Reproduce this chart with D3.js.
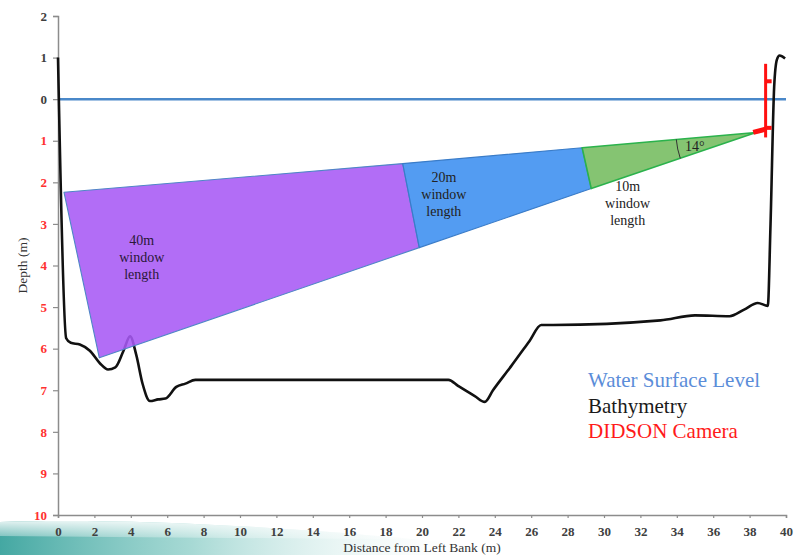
<!DOCTYPE html>
<html>
<head>
<meta charset="utf-8">
<script src="https://cdn.jsdelivr.net/npm/d3@7"></script>
<style>
  html, body { margin: 0; padding: 0; background: #fff; }
  svg { display: block; }
  svg text { font-family: "Liberation Serif", "Times New Roman", serif; }
</style>
</head>
<body>
<svg id="chart" width="801" height="555"></svg>
<script>
// Axis ticks
const xTicks = d3.range(0, 41, 2);
const yTicks = [2, 1, 0, -1, -2, -3, -4, -5, -6, -7, -8, -9, -10];

// Riverbed profile: [distance from left bank (m), elevation relative to water surface (m)]
const bathymetry = [
  [0, 1.0], [0.45, -5.75], [0.7, -5.86], [1.2, -5.9], [1.75, -6.05], [2.3, -6.35],
  [2.75, -6.5], [3.15, -6.45], [3.6, -6.05], [3.96, -5.7], [4.3, -6.15], [4.65, -6.85],
  [5.05, -7.26], [5.5, -7.22], [5.9, -7.2], [6.5, -6.92], [7.0, -6.84], [7.55, -6.75],
  [8.5, -6.75], [21.45, -6.75], [22.0, -6.9], [22.9, -7.14], [23.45, -7.28],
  [23.9, -7.0], [24.9, -6.42], [25.9, -5.82], [26.55, -5.43], [27.2, -5.43],
  [33.1, -5.32], [35.0, -5.2], [36.9, -5.22], [37.7, -5.06], [38.45, -4.9], [39.0, -4.97],
  [39.15, -3.0], [39.35, 0.3], [39.5, 0.95], [39.65, 1.05], [39.95, 0.98]
];

// Water surface level
const waterSurface = [[0, 0], [40, 0]];

// Sonar beam windows (corner points, m)
const beamApex = [38.35, -0.8];
const window40 = [[0.33, -2.24], [18.94, -1.55], [19.85, -3.57], [2.27, -6.22]];
const window20 = [[18.94, -1.55], [28.8, -1.17], [29.3, -2.15], [19.85, -3.57]];
const window10 = [[28.8, -1.17], beamApex, [29.3, -2.15]];
const windowNames = ["40m", "20m", "10m"];
const windowLabelAt = [[4.6, -3.5], [21.2, -2.0], [31.3, -2.22]];
const beamAngle = "14°";

// DIDSON camera mount
const cameraPole = [[38.88, 0.85], [38.88, -0.92]];
const cameraBrackets = [0.43, -0.69];
const cameraBody = [[38.2, -0.8], [38.88, -0.72]];

// Legend entries
const legendItems = ["Water Surface Level", "Bathymetry", "DIDSON Camera"];
const legendColors = ["#5b8dd9", "#1a1a1a", "#ff1a1a"];

const serif = "'Liberation Serif', 'Times New Roman', serif";
const svg = d3.select("#chart");
const x = d3.scaleLinear().domain([0, 40]).range([58, 786]);
const y = d3.scaleLinear().domain([2, -10]).range([16, 515]);

// Soft teal band along the lower-left edge
const defs = svg.append("defs");
const grad = defs.append("linearGradient").attr("id", "band").attr("x1", 0).attr("x2", 1).attr("y1", 0).attr("y2", 0);
grad.append("stop").attr("offset", "0%").attr("stop-color", "#2f9e98").attr("stop-opacity", 0.9);
grad.append("stop").attr("offset", "40%").attr("stop-color", "#6cc0b8").attr("stop-opacity", 0.6);
grad.append("stop").attr("offset", "100%").attr("stop-color", "#ffffff").attr("stop-opacity", 0);
const vgrad = defs.append("linearGradient").attr("id", "bandV").attr("x1", 0).attr("x2", 0).attr("y1", 0).attr("y2", 1);
vgrad.append("stop").attr("offset", "0%").attr("stop-color", "#fff").attr("stop-opacity", 0.85);
vgrad.append("stop").attr("offset", "100%").attr("stop-color", "#fff").attr("stop-opacity", 0);
svg.append("path")
  .attr("d", "M0,522 C120,518 300,526 480,546 L480,555 L0,555 Z")
  .attr("fill", "url(#band)");
svg.append("path")
  .attr("d", "M0,522 C120,518 300,526 480,546 L480,540 L0,536 Z")
  .attr("fill", "url(#bandV)");

// Axes
const xAxis = svg.append("g").attr("transform", `translate(0,${y(-10)})`)
  .call(d3.axisBottom(x).tickValues(xTicks).tickSize(3).tickPadding(9).tickFormat(d3.format("d")));
const yAxis = svg.append("g").attr("transform", `translate(${x(0)},0)`)
  .call(d3.axisLeft(y).tickValues(yTicks).tickSize(5).tickPadding(6).tickFormat(d => Math.abs(d)));
[xAxis, yAxis].forEach(g => {
  g.select(".domain").attr("stroke", "#8c8c8c").attr("stroke-width", 1.5);
  g.selectAll(".tick line").attr("stroke", "#8c8c8c").attr("stroke-width", 1.2);
  g.selectAll("text").attr("font-family", serif).attr("font-size", 13)
    .attr("font-weight", "bold").attr("fill", "#404040");
});
yAxis.selectAll(".tick text").attr("fill", d => d < 0 ? "#ff3030" : "#404040");

svg.append("text").attr("x", (x(0) + x(40)) / 2).attr("y", 552)
  .attr("text-anchor", "middle").attr("font-family", serif).attr("font-size", 13.5).attr("fill", "#333")
  .text("Distance from Left Bank (m)");
svg.append("text").attr("transform", `translate(27,${(y(2) + y(-10)) / 2}) rotate(-90)`)
  .attr("text-anchor", "middle").attr("font-family", serif).attr("font-size", 13.5).attr("fill", "#333")
  .text("Depth (m)");

const line = d3.line().x(d => x(d[0])).y(d => y(d[1]));

// Water surface
svg.append("path").datum(waterSurface).attr("d", line)
  .attr("fill", "none").attr("stroke", "#4a88c9").attr("stroke-width", 2.5);

// Riverbed
svg.append("path").datum(bathymetry)
  .attr("d", d3.line().x(d => x(d[0])).y(d => y(d[1])).curve(d3.curveMonotoneX))
  .attr("fill", "none").attr("stroke", "#111").attr("stroke-width", 2.6).attr("stroke-linejoin", "round");

// Beam windows
const windows = [window40, window20, window10];
const fills = ["#a759f5", "#3b8ef0", "#74bc5f"];
const edges = ["#4f86c6", "#3a7cc8", "#2bb24c"];
svg.selectAll(".win").data(windows).join("path").attr("class", "win")
  .attr("d", d => line(d) + "Z")
  .attr("fill", (d, i) => fills[i]).attr("fill-opacity", 0.88)
  .attr("stroke", (d, i) => edges[i]).attr("stroke-width", (d, i) => i === 2 ? 1.6 : 1.1)
  .attr("stroke-linejoin", "round");

// Window labels
windowNames.forEach((name, i) => {
  const t = svg.append("text").attr("text-anchor", "middle").attr("font-family", serif).attr("font-size", 14)
    .attr("fill", i === 0 ? "#2a1838" : "#222");
  const cx = x(windowLabelAt[i][0]), cy = y(windowLabelAt[i][1]);
  [name, "window", "length"].forEach((s, k) => {
    t.append("tspan").attr("x", cx).attr("y", cy + k * 17).text(s);
  });
});

// Beam angle arc
const ax = x(beamApex[0]), ay = y(beamApex[1]);
const a1 = Math.atan2(y(window40[0][1]) - ay, x(window40[0][0]) - ax);
const a2 = Math.atan2(y(window40[3][1]) - ay, x(window40[3][0]) - ax);
const r = 80;
svg.append("path")
  .attr("d", `M${ax + r * Math.cos(a1)},${ay + r * Math.sin(a1)} A${r},${r} 0 0 0 ${ax + r * Math.cos(a2)},${ay + r * Math.sin(a2)}`)
  .attr("fill", "none").attr("stroke", "#333").attr("stroke-width", 1);
svg.append("text").attr("x", ax - 71).attr("y", ay + 19).attr("font-family", serif)
  .attr("font-size", 14).attr("fill", "#222").text(beamAngle);

// Camera
const red = "#ff1010";
svg.append("path").datum(cameraPole).attr("d", line)
  .attr("stroke", red).attr("stroke-width", 3);
cameraBrackets.forEach(v => {
  svg.append("line").attr("x1", x(cameraPole[0][0])).attr("x2", x(cameraPole[0][0]) + 6)
    .attr("y1", y(v)).attr("y2", y(v)).attr("stroke", red).attr("stroke-width", 4);
});
svg.append("path").datum(cameraBody).attr("d", line)
  .attr("stroke", red).attr("stroke-width", 5).attr("stroke-linecap", "butt");

// Legend
legendItems.forEach((s, i) => {
  svg.append("text").attr("x", 588).attr("y", 387 + i * 25.5)
    .attr("font-family", serif).attr("font-size", 21).attr("fill", legendColors[i]).text(s);
});
</script>
</body>
</html>
